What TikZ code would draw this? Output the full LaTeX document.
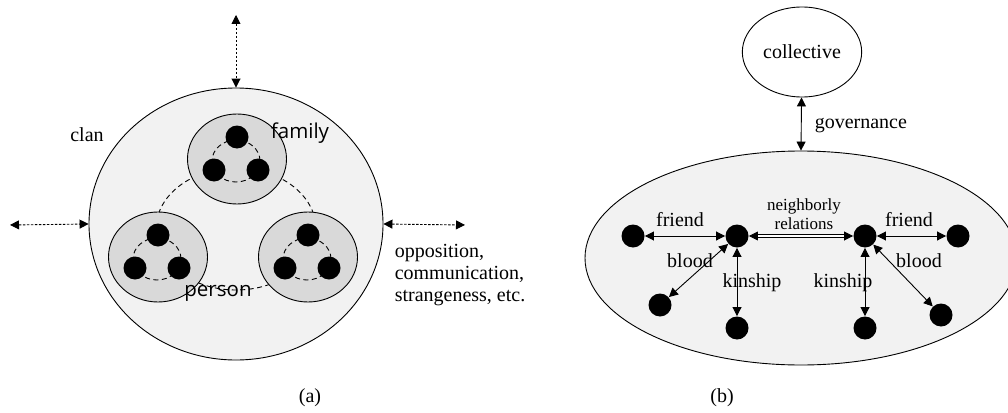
\documentclass[tikz,border=0pt]{standalone}
\usepackage{fontspec}
\setmainfont{Liberation Serif}
\newfontfamily\unitfont{Open Sans}
\usetikzlibrary{shapes.geometric,arrows.meta}
\tikzstyle{clan}=[ellipse,
	draw=black,
	fill=gray!10,
	minimum width=294pt,
	minimum height=272pt]
\tikzstyle{family}=[ellipse,
	draw=black,
	fill=gray!30,
	minimum width=99pt,
	minimum height=90pt]
\tikzstyle{person}=[circle,
	fill=black,
	inner sep=0pt,
	minimum size=23pt]
\tikzstyle{collective}=[ellipse,
	draw=black,
	fill=white,
	minimum width=96pt,
	minimum height=90pt]
\tikzstyle{village}=[ellipse,
	draw=black,
	fill=gray!10,
	minimum width=432pt,
	minimum height=214pt]
\tikzstyle{link}=[{Triangle[length=9pt,width=9pt]}-{Triangle[length=9pt,width=9pt]}]
\tikzstyle{outlink}=[link,dash pattern=on 2.5pt off 1.5pt]
\tikzstyle{ring}=[dash pattern=on 5pt off 3.5pt]
\tikzstyle{txt}=[font=\fontsize{20}{22}\selectfont]
\tikzstyle{sanstxt}=[font=\unitfont\fontsize{20.5}{22}\selectfont]

\begin{document}
\begin{tikzpicture}[x=1pt,y=-1pt,line width=0.9pt]
	\useasboundingbox (0,0) rectangle (1008,412);
	% (a) clan
	\node (clan) [clan] at (236,224) {};
	\coordinate (up) at (236,15);
	\coordinate (left) at (10,225);
	\coordinate (right) at (465,225);
	\draw[outlink] (up) -- (clan.north);
	\draw[outlink] (left) -- (clan.west);
	\draw[outlink] (clan.east) -- (right);
	\draw[ring] (236,229) ellipse (80 and 61);

	\foreach \name/\x/\y in {top/237/159, lft/158/257, rgt/308/257} {
		\node (\name) [family] at (\x,\y) {};
		\draw[ring] (\x-1,\y+2) ellipse (24 and 21);
		\node (\name-a) [person] at (\x,\y-22) {};
		\node (\name-b) [person] at (\x-23,\y+11) {};
		\node (\name-c) [person] at (\x+21,\y+11) {};
	}

	\node (clanlabel) [txt] at (87,135) {clan};
	\node (familylabel) [sanstxt] at (300,133) {family};
	\node (personlabel) [sanstxt] at (218,293) {person};
	\node (rellabel) [txt,align=left,anchor=west] at (391,275) {opposition,\\communication,\\strangeness, etc.};
	\node (alabel) [txt] at (310,398) {(a)};

	% (b) collective
	\node (collective) [collective,txt] at (802,52) {collective};
	\node (village) [village] at (801,258) {};
	\draw[link] (collective) -- (village.north);
	\node (govlabel) [txt,anchor=west] at (811,126) {governance};

	\node (hubl) [person] at (737,236) {};
	\node (hubr) [person] at (865,236) {};
	\node (friendl) [person] at (633,236) {};
	\node (friendr) [person] at (958,236) {};
	\node (bloodl) [person] at (660,305) {};
	\node (bloodr) [person] at (941,315) {};
	\node (kinl) [person] at (737,328) {};
	\node (kinr) [person] at (865,328) {};

	\draw[link] (friendl) -- (hubl);
	\draw[link,double,double distance=1.6pt,line width=0.8pt] (hubl) -- (hubr);
	\draw[link] (hubr) -- (friendr);
	\draw[link] (hubl) -- (bloodl);
	\draw[link] (hubl) -- (kinl);
	\draw[link] (hubr) -- (kinr);
	\draw[link] (hubr) -- (bloodr);

	\node (friendllabel) [txt] at (680,220) {friend};
	\node (friendrlabel) [txt] at (909,220) {friend};
	\node (neighlabel) [align=center,font=\fontsize{17}{19}\selectfont] at (804,214) {neighborly\\relations};
	\node (bloodllabel) [txt] at (690,261) {blood};
	\node (bloodrlabel) [txt] at (919,261) {blood};
	\node (kinllabel) [txt] at (752,283) {kinship};
	\node (kinrlabel) [txt] at (843,283) {kinship};
	\node (blabel) [txt] at (722,398) {(b)};
\end{tikzpicture}
\end{document}
